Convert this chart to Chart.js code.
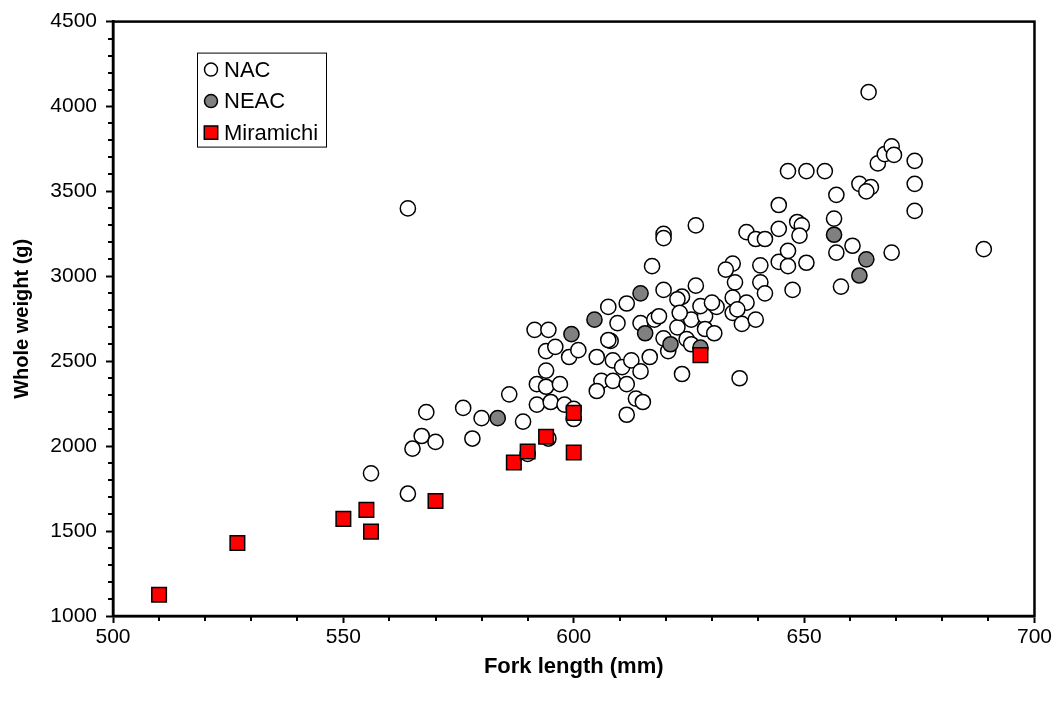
<!DOCTYPE html>
<html>
<head>
<meta charset="utf-8">
<script src="https://cdn.jsdelivr.net/npm/chart.js@4/dist/chart.umd.min.js"></script>
<style>
  html, body { margin: 0; padding: 0; background: #fff; }
  #wrap { width: 1054px; height: 704px; }
</style>
</head>
<body>
<div id="wrap"><canvas id="fishChart" width="1054" height="704"></canvas></div>
<script>
// Fork length (mm) vs whole weight (g), three groups

// NAC fish: fork length (mm) / whole weight (g)
const nacLength = [
  564, 568, 567, 570, 565, 556, 564,
  576, 580, 578, 586, 589, 592, 595, 598, 600, 600,
  594, 592, 594, 597, 594, 596, 599, 601, 608, 605, 608.5, 610.5, 612.5,
  606, 605, 608.5, 611.5, 611.5, 613.5, 615,
  626.5, 619.5, 619.5, 617, 619.5, 623.5, 626.5, 607.5, 611.5, 609.5, 614.5, 617.5, 618.5, 607.5, 591.5, 594.5,
  614.5, 616.5, 620.5, 619.5, 622.5, 625.5, 628.5, 628.5, 630.5, 624.5, 623.5, 636,
  634.5, 633, 635, 634.5, 634.5, 631, 622.5, 623, 627.5, 630,
  637.5, 635.5, 636.5, 639.5, 637.5, 639.5, 641.5, 644.5, 644.5, 640.5, 640.5, 641.5, 644.5, 646.5, 646.5, 647.5, 625.5,
  646.5, 650.5, 654.5, 666, 667.5, 669, 669.5, 674, 674, 674,
  657, 662, 664.5, 663.5, 648.5, 649.5, 649, 656.5, 660.5, 657, 658, 669, 650.5, 664, 689,
  594.5, 590
];
const nacWeight = [
  3400, 2200, 2060, 2025, 1985, 1840, 1720,
  2225, 2165, 2045, 2305, 2145, 2245, 2260, 2245, 2220, 2160,
  2445, 2365, 2350, 2365, 2560, 2585, 2525, 2565, 2620, 2525, 2505, 2465, 2505,
  2385, 2325, 2385, 2365, 2185, 2280, 2260,
  3300, 3250, 3225, 3060, 2920, 2880, 2945, 2820, 2840, 2725, 2725, 2745, 2765, 2625, 2685, 2685,
  2440, 2525, 2560, 2635, 2700, 2745, 2765, 2690, 2665, 2630, 2425, 2400,
  3075, 3040, 2965, 2875, 2785, 2820, 2865, 2785, 2825, 2845,
  2845, 2805, 2720, 2745, 3260, 3220, 3220, 3280, 3420, 3065, 2965, 2900, 3085, 3060, 3150, 2920, 2600,
  3620, 3620, 3620, 3665, 3720, 3765, 3715, 3680, 3545, 3385,
  3480, 3545, 3525, 3500, 3320, 3300, 3240, 3340, 3180, 3140, 2940, 3140, 3080, 4085, 3160,
  2045, 1955
];

// NEAC fish
const neacLength = [583.5, 599.5, 604.5, 614.5, 615.5, 621, 627.5, 656.5, 663.5, 662];
const neacWeight = [2165, 2660, 2745, 2900, 2665, 2600, 2580, 3245, 3100, 3005];

// Miramichi fish
const miraLength = [510, 527, 550, 555, 556, 570, 587, 590, 594, 600, 600, 627.5];
const miraWeight = [1125, 1430, 1572, 1625, 1497, 1677, 1904, 1969, 2055, 1963, 2196, 2536];

// Axis ranges and ticks
const xMin = 500, xMax = 700, xMajor = 50, xMinor = 10;
const yMin = 1000, yMax = 4500, yMajor = 500, yMinor = 100;

function toPoints(xs, ys) {
  return xs.map((x, i) => ({ x: x, y: ys[i] }));
}

Chart.defaults.font.family = '"Liberation Sans", Arial, sans-serif';
Chart.defaults.color = '#000';

// Minor ticks plus the closed box round the plot area
const frameAndTicks = {
  id: 'frameAndTicks',
  afterDraw(chart) {
    const { ctx, chartArea: a, scales } = chart;
    ctx.save();
    ctx.strokeStyle = '#000';
    ctx.lineWidth = 2;
    ctx.beginPath();
    for (let v = xMin + xMinor; v < xMax; v += xMinor) {
      if (v % xMajor === 0) continue;
      const px = Math.round(scales.x.getPixelForValue(v));
      ctx.moveTo(px, a.bottom);
      ctx.lineTo(px, a.bottom + 5);
    }
    for (let v = yMin + yMinor; v < yMax; v += yMinor) {
      if (v % yMajor === 0) continue;
      const py = Math.round(scales.y.getPixelForValue(v));
      ctx.moveTo(a.left, py);
      ctx.lineTo(a.left - 5, py);
    }
    ctx.stroke();
    ctx.lineWidth = 2.5;
    ctx.strokeRect(a.left, a.top, a.right - a.left, a.bottom - a.top);
    ctx.restore();
  }
};

// Boxed legend inside the plot, top left
const boxLegend = {
  id: 'boxLegend',
  afterDraw(chart) {
    const ctx = chart.ctx;
    const a = chart.chartArea;
    const bx = a.left + 84, by = a.top + 31, bw = 129, bh = 94;
    ctx.save();
    ctx.fillStyle = '#fff';
    ctx.fillRect(bx, by, bw, bh);
    ctx.strokeStyle = '#000';
    ctx.lineWidth = 1;
    ctx.strokeRect(bx + 0.5, by + 0.5, bw, bh);
    const order = [2, 1, 0];
    order.forEach((di, row) => {
      const ds = chart.data.datasets[di];
      const cy = by + 17 + row * 31.5;
      const cx = bx + 14;
      ctx.fillStyle = ds.backgroundColor;
      ctx.strokeStyle = '#000';
      ctx.lineWidth = 1.5;
      Chart.helpers.drawPoint(ctx, {
        pointStyle: ds.pointStyle,
        radius: ds.pointStyle === 'rect' ? 9.5 : 6.5,
        rotation: 0,
        borderWidth: 1.5
      }, cx, cy);
      ctx.fillStyle = '#000';
      ctx.font = '22px "Liberation Sans", Arial, sans-serif';
      ctx.textAlign = 'left';
      ctx.textBaseline = 'middle';
      ctx.fillText(ds.label, bx + 27, cy + 1);
    });
    ctx.restore();
  }
};

const ctx = document.getElementById('fishChart').getContext('2d');
const fishChart = new Chart(ctx, {
  type: 'scatter',
  data: {
    datasets: [
      {
        label: 'Miramichi',
        data: toPoints(miraLength, miraWeight),
        pointStyle: 'rect',
        pointRadius: 10.3,
        pointHoverRadius: 10.3,
        backgroundColor: '#ff0000',
        borderColor: '#000',
        borderWidth: 1.5
      },
      {
        label: 'NEAC',
        data: toPoints(neacLength, neacWeight),
        pointStyle: 'circle',
        pointRadius: 7.6,
        pointHoverRadius: 7.6,
        backgroundColor: '#808080',
        borderColor: '#000',
        borderWidth: 1.5
      },
      {
        label: 'NAC',
        data: toPoints(nacLength, nacWeight),
        pointStyle: 'circle',
        pointRadius: 7.6,
        pointHoverRadius: 7.6,
        backgroundColor: '#ffffff',
        borderColor: '#000',
        borderWidth: 1.5
      }
    ]
  },
  options: {
    responsive: false,
    animation: false,
    layout: { padding: { left: 0, right: 14, top: 16, bottom: 0 } },
    plugins: {
      legend: { display: false },
      tooltip: { enabled: false }
    },
    scales: {
      x: {
        type: 'linear',
        min: xMin,
        max: xMax,
        afterFit: (scale) => { scale.height = 88; },
        grid: {
          drawOnChartArea: false,
          drawTicks: true,
          tickLength: 7,
          tickColor: '#000',
          tickWidth: 2
        },
        border: { display: true, color: '#000', width: 2.5 },
        ticks: {
          stepSize: xMajor,
          padding: 2,
          font: { size: 21 },
          callback: (v) => String(v)
        },
        title: {
          display: true,
          text: 'Fork length (mm)',
          font: { size: 22, weight: 'bold' },
          padding: { top: 0, bottom: 24 }
        }
      },
      y: {
        type: 'linear',
        min: yMin,
        max: yMax,
        afterFit: (scale) => { scale.width = 113; },
        grid: {
          drawOnChartArea: false,
          drawTicks: true,
          tickLength: 7,
          tickColor: '#000',
          tickWidth: 2
        },
        border: { display: true, color: '#000', width: 2.5 },
        ticks: {
          stepSize: yMajor,
          padding: 9,
          font: { size: 21 },
          callback: (v) => String(v)
        },
        title: {
          display: true,
          text: 'Whole weight (g)',
          font: { size: 20, weight: 'bold' },
          padding: { top: 10, bottom: 0 }
        }
      }
    }
  },
  plugins: [frameAndTicks, boxLegend]
});
</script>
</body>
</html>
